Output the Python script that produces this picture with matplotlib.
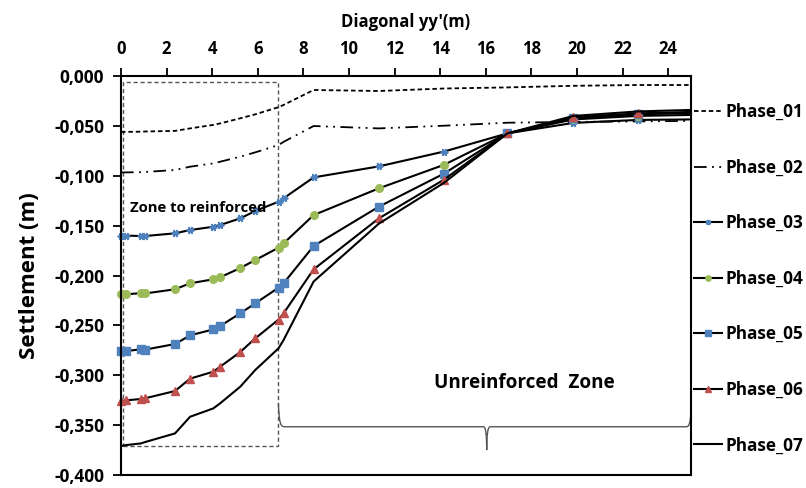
import matplotlib
matplotlib.use("Agg")
import matplotlib.pyplot as plt
from matplotlib.path import Path
from matplotlib.patches import PathPatch, Rectangle
from matplotlib.ticker import FuncFormatter

plt.rcParams['font.family'] = ['Open Sans', 'DejaVu Sans']
plt.rcParams['font.weight'] = 'bold'

# ---- data ----
x = [0.0, 0.22, 0.88, 1.05, 2.37, 3.03, 4.05, 4.35, 5.23, 5.89, 6.91, 7.13,
     8.45, 11.31, 14.17, 16.95, 19.84, 22.67, 25.0]

phase_01 = [-0.056, -0.056, -0.0558, -0.0556, -0.055, -0.0525, -0.049, -0.0475, -0.0424,
            -0.0384, -0.0312, -0.029, -0.014, -0.015, -0.0125, -0.0114, -0.0098, -0.009, -0.009]
phase_02 = [-0.0966, -0.0966, -0.0964, -0.0962, -0.0942, -0.0909, -0.0876, -0.0859, -0.0809,
            -0.0765, -0.0692, -0.066, -0.0501, -0.0525, -0.0498, -0.0468, -0.046, -0.0455, -0.045]
phase_03 = [-0.160, -0.160, -0.1604, -0.1604, -0.1577, -0.1544, -0.1511, -0.1494, -0.1427,
            -0.1353, -0.126, -0.1226, -0.1016, -0.0906, -0.0757, -0.0575, -0.047, -0.044, -0.0435]
phase_04 = [-0.2186, -0.2189, -0.2176, -0.218, -0.2138, -0.2078, -0.2038, -0.2018, -0.1925,
            -0.1845, -0.1721, -0.1678, -0.1394, -0.1126, -0.089, -0.0575, -0.0435, -0.040, -0.039]
phase_05 = [-0.2757, -0.2757, -0.274, -0.2743, -0.2687, -0.260, -0.254, -0.2506, -0.2379,
            -0.2279, -0.2122, -0.2078, -0.1704, -0.131, -0.0978, -0.0575, -0.0425, -0.0385, -0.037]
phase_06 = [-0.3258, -0.3251, -0.3238, -0.3231, -0.3158, -0.3034, -0.2964, -0.2914, -0.2767,
            -0.263, -0.2442, -0.2379, -0.1938, -0.1427, -0.1038, -0.0575, -0.0414, -0.0374, -0.036]
phase_07 = [-0.3709, -0.370, -0.3683, -0.367, -0.3583, -0.3416, -0.3332, -0.3281, -0.3115,
            -0.2947, -0.273, -0.2647, -0.206, -0.148, -0.107, -0.0575, -0.040, -0.0355, -0.034]

labels = ['Phase_01', 'Phase_02', 'Phase_03', 'Phase_04', 'Phase_05', 'Phase_06', 'Phase_07']
x_ticks = list(range(0, 25, 2))
y_ticks = [0.0, -0.05, -0.10, -0.15, -0.20, -0.25, -0.30, -0.35, -0.40]

blue = '#4F81BD'
green = '#9BBB59'
red = '#C0504D'

fig = plt.figure(figsize=(8.06, 4.88), dpi=100)
ax = fig.add_axes([0.1501, 0.0266, 0.7072, 0.8176])

lw = 1.5
ax.plot(x, phase_01, color='black', lw=1.3, dashes=(2.5, 1.6), label=labels[0])
ax.plot(x, phase_02, color='black', lw=1.3, dashes=(7, 3, 1, 3, 1, 3), label=labels[1])
mk = dict(markevery=slice(0, -1), clip_on=False, markersize=5.5)
ax.plot(x, phase_03, color='black', lw=lw, marker=(6, 2, 90), markeredgecolor=blue,
        markerfacecolor=blue, markeredgewidth=1.3, label=labels[2], **mk)
ax.plot(x, phase_04, color='black', lw=lw, marker='o', markeredgecolor=green,
        markerfacecolor=green, label=labels[3], **mk)
ax.plot(x, phase_05, color='black', lw=lw, marker='s', markeredgecolor=blue,
        markerfacecolor=blue, label=labels[4], **mk)
ax.plot(x, phase_06, color='black', lw=lw, marker='^', markeredgecolor=red,
        markerfacecolor=red, label=labels[5], **mk)
ax.plot(x, phase_07, color='black', lw=lw, label=labels[6])

ax.set_xlim(0, 25)
ax.set_ylim(-0.4, 0.0)
ax.set_xticks(x_ticks)
ax.set_yticks(y_ticks)
ax.yaxis.set_major_formatter(FuncFormatter(lambda v, p: f"{v:.3f}".replace('.', ',').replace('-0,000', '0,000')))
ax.xaxis.tick_top()
ax.xaxis.set_label_position('top')
ax.tick_params(axis='x', direction='out', length=6, width=1.3, labelsize=12, pad=7)
ax.tick_params(axis='y', direction='out', length=6, width=1.3, labelsize=12.5, pad=6)
for lab in ax.get_xticklabels() + ax.get_yticklabels():
    lab.set_fontweight('bold')
for s in ax.spines.values():
    s.set_linewidth(1.5)

ax.set_xlabel("Diagonal yy'(m)", fontsize=12, fontweight='bold', labelpad=9)
ax.set_ylabel("Settlement (m)", fontsize=16, fontweight='bold', labelpad=10)

# zone to reinforce rectangle
ax.add_patch(Rectangle((0.09, -0.371), 6.81, 0.365, fill=False, edgecolor='#555555',
                       lw=1.0, linestyle=(0, (3, 2)), zorder=1))
ax.text(0.4, -0.132, "Zone to reinforced", fontsize=10.7, fontweight='bold', ha='left', va='center')

# brace for unreinforced zone
verts = [(6.9, -0.328), (6.95, -0.350), (7.0, -0.3516), (7.2, -0.3516),
         (15.9, -0.3516),
         (16.0, -0.3516), (16.04, -0.36), (16.04, -0.375),
         (16.04, -0.36), (16.08, -0.3516), (16.2, -0.3516),
         (24.8, -0.3516),
         (24.95, -0.3516), (25.0, -0.345), (25.0, -0.328)]
codes = [Path.MOVETO, Path.CURVE4, Path.CURVE4, Path.CURVE4,
         Path.LINETO,
         Path.CURVE4, Path.CURVE4, Path.CURVE4,
         Path.CURVE4, Path.CURVE4, Path.CURVE4,
         Path.LINETO,
         Path.CURVE4, Path.CURVE4, Path.CURVE4]
ax.add_patch(PathPatch(Path(verts, codes), fill=False, edgecolor='#555555', lw=1.0, clip_on=False))
ax.text(17.7, -0.308, "Unreinforced  Zone", fontsize=13.6, fontweight='bold', ha='center', va='center')

leg = ax.legend(loc='center left', bbox_to_anchor=(1.0, 0.492), frameon=False,
                fontsize=12.3, labelspacing=2.2, handlelength=1.65, handletextpad=0.2,
                borderpad=0, borderaxespad=0.15, markerscale=0.7)
for t in leg.get_texts():
    t.set_fontweight('bold')

fig.savefig('out.png', dpi=100)
